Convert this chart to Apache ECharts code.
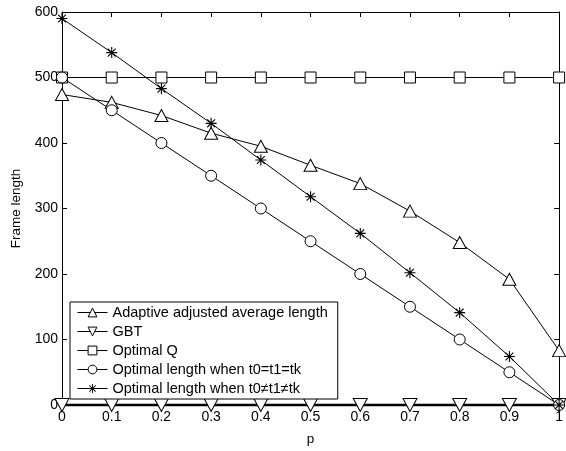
<!DOCTYPE html>
<html><head><meta charset="utf-8">
<script src="https://cdn.jsdelivr.net/npm/echarts@6/dist/echarts.min.js"></script>
<style>html,body{margin:0;padding:0;background:#fff}#c{width:566px;height:451px}</style>
</head><body><div id="c"></div>
<script>
const pValues = [0, 0.1, 0.2, 0.3, 0.4, 0.5, 0.6, 0.7, 0.8, 0.9, 1];
const adaptiveLen = [474, 462, 442, 415, 395, 366, 338, 296, 248, 192, 83];
const gbtLen = [0, 0, 0, 0, 0, 0, 0, 0, 0, 0, 0];
const optimalQ = [500, 500, 500, 500, 500, 500, 500, 500, 500, 500, 500];
const optEqual = [500, 450, 400, 350, 300, 250, 200, 150, 100, 50, 0];
const optUnequal = [590, 538, 483, 430, 374, 318, 262, 202, 141, 74, 0];
const seriesNames = ['Adaptive adjusted average length', 'GBT', 'Optimal Q',
  'Optimal length when t0=t1=tk', 'Optimal length when t0\u2260t1\u2260tk'];

const star = 'path://M-0.1,-1 L0.1,-1 L0.1,1 L-0.1,1 Z M-1,-0.1 L1,-0.1 L1,0.1 L-1,0.1 Z ' +
  'M-0.78,-0.64 L-0.64,-0.78 L0.78,0.64 L0.64,0.78 Z M0.64,-0.78 L0.78,-0.64 L-0.64,0.78 L-0.78,0.64 Z';
const font = 'Liberation Sans';
function pairs(arr){ return pValues.map((p,i)=>[p, arr[i]]); }
function mk(name, data, symbol, size, opts){
  return Object.assign({
    name, type:'line', data: pairs(data), symbol, symbolSize: size,
    showAllSymbol: true, clip: false,
    lineStyle:{color:'#000', width:1},
    itemStyle:{color:'#fff', borderColor:'#000', borderWidth:1},
    emphasis:{disabled:true}, animation:false, z:3
  }, opts||{});
}
const chart = echarts.init(document.getElementById('c'), null, {renderer:'canvas'});
const axisCommon = {
  axisLine:{show:true, onZero:false, lineStyle:{color:'#000', width:1}},
  axisTick:{show:true, inside:true, length:5, lineStyle:{color:'#000'}},
  splitLine:{show:false}
};
chart.setOption({
  backgroundColor:'#fff',
  animation:false,
  grid:{left:62, right:3, top:12, bottom:45, show:false},
  legend:{
    orient:'vertical', left:70, top:302,
    padding:[3,10,3,7], itemGap:4, itemWidth:30, itemHeight:11,
    backgroundColor:'#fff', borderColor:'#000', borderWidth:1,
    selectedMode:false, z:10,
    lineStyle:{width:1},
    itemStyle:{borderWidth:1},
    textStyle:{fontFamily:font, fontSize:14.5, lineHeight:15, color:'#000'},
    data: seriesNames
  },
  xAxis:[
    Object.assign({type:'value', min:0, max:1, interval:0.1, position:'bottom',
      name:'p', nameLocation:'middle', nameGap:27,
      nameTextStyle:{fontFamily:font, fontSize:13.5, color:'#000'},
      axisLabel:{fontFamily:font, fontSize:14, color:'#000', margin:5,
        formatter:v=>String(+v.toFixed(1))}}, axisCommon),
    Object.assign({type:'value', min:0, max:1, interval:0.1, position:'top',
      axisLabel:{show:false}}, axisCommon)
  ],
  yAxis:[
    Object.assign({type:'value', min:0, max:600, interval:100, position:'left',
      name:'Frame length', nameLocation:'middle', nameGap:39, nameRotate:90,
      nameTextStyle:{fontFamily:font, fontSize:13.5, color:'#000'},
      axisLabel:{fontFamily:font, fontSize:14, color:'#000', margin:4}}, axisCommon),
    Object.assign({type:'value', min:0, max:600, interval:100, position:'right',
      axisLabel:{show:false}}, axisCommon)
  ],
  series:[
    mk(seriesNames[0], adaptiveLen, 'triangle', [13,12]),
    mk(seriesNames[1], gbtLen, 'triangle', [14,13], {symbolRotate:180, lineStyle:{color:'#000', width:2.5}}),
    mk(seriesNames[2], optimalQ, 'rect', [11,11]),
    mk(seriesNames[3], optEqual, 'circle', [11,11]),
    mk(seriesNames[4], optUnequal, star, [11,11], {itemStyle:{color:'#000', borderWidth:0}})
  ]
});
</script></body></html>
